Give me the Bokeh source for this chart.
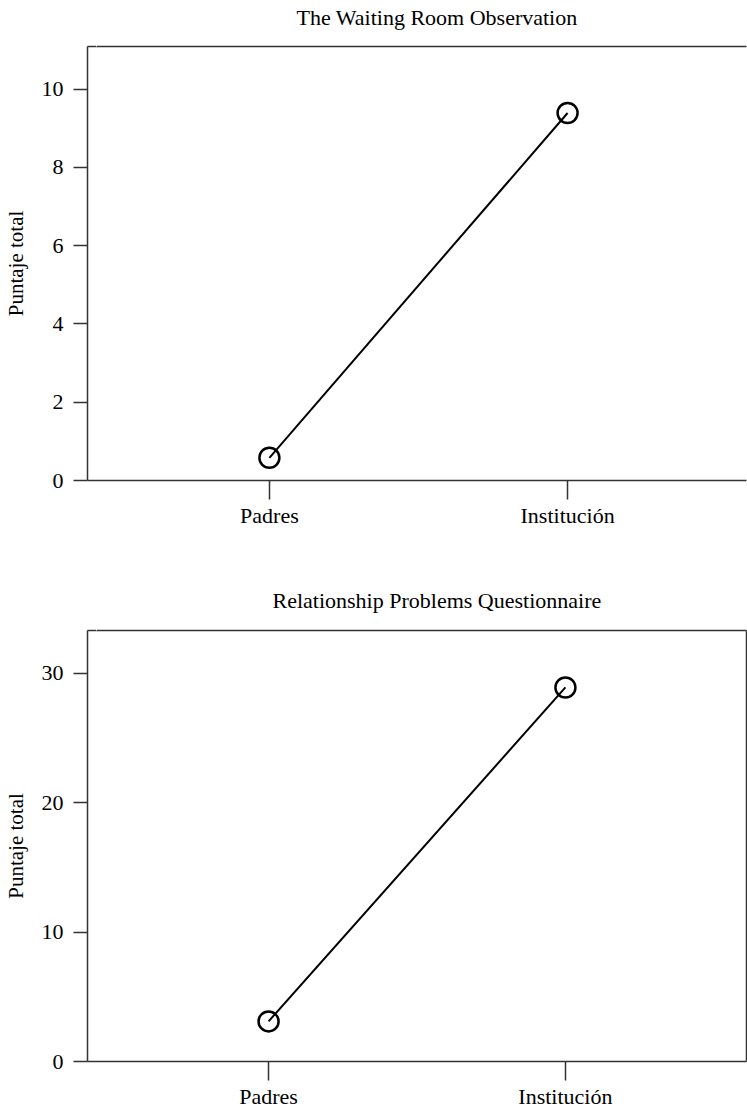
from bokeh.plotting import figure
from bokeh.models import LinearAxis, FixedTicker, Range1d, ColumnDataSource
from bokeh.layouts import column
from bokeh.embed import file_html
from bokeh.resources import INLINE

# Groups compared in both panels
groups = ["Padres", "Institución"]
group_pos = [1, 2]

# Total scores per group
waiting_room_scores = [0.58, 9.39]
relationship_scores = [3.1, 28.9]

# Titles and y tick values
panel_titles = ["The Waiting Room Observation", "Relationship Problems Questionnaire"]
waiting_room_ticks = [0, 2, 4, 6, 8, 10]
relationship_ticks = [0, 10, 20, 30]
y_label = "Puntaje total"

FONT = "Liberation Serif"
AXIS_COLOR = "#333333"


def bare_axis(anchor=None, gap=0):
    # frame edge line; a single white tick reserves `gap` px of room outside it
    ticks = [] if anchor is None else [anchor]
    ax = LinearAxis(ticker=FixedTicker(ticks=ticks))
    ax.axis_line_color = AXIS_COLOR
    ax.axis_line_width = 1.5
    ax.major_tick_line_color = "white"
    ax.major_tick_in = 0
    ax.major_tick_out = gap
    ax.minor_tick_line_color = None
    ax.minor_tick_in = 0
    ax.minor_tick_out = 0
    ax.major_label_standoff = 0
    ax.major_label_text_font_size = "0px"
    if anchor is not None:
        ax.major_label_overrides = {anchor: ""}
    return ax


def panel(title, values, yticks, ymax, xr, width, height,
          left, right, top, bottom, right_line, title_offset, title_gap):
    p = figure(width=width, height=height,
               x_range=Range1d(*xr), y_range=Range1d(0, ymax),
               x_axis_type=None, y_axis_type=None,
               min_border_left=left, min_border_right=right,
               min_border_top=top, min_border_bottom=bottom,
               output_backend="svg", toolbar_location=None,
               title=title)
    p.outline_line_color = None
    p.background_fill_color = "white"
    p.border_fill_color = "white"

    p.title.text_font = FONT
    p.title.text_font_size = "22px"
    p.title.text_font_style = "normal"
    p.title.text_color = "black"
    p.title.align = "left"
    p.title.offset = title_offset
    p.title.standoff = 4

    # y axis with outward ticks
    ya = LinearAxis(ticker=FixedTicker(ticks=yticks))
    ya.axis_line_color = AXIS_COLOR
    ya.axis_line_width = 1.5
    ya.major_tick_line_color = AXIS_COLOR
    ya.major_tick_line_width = 1.5
    ya.major_tick_in = 0
    ya.major_tick_out = 14
    ya.minor_tick_line_color = None
    ya.major_label_standoff = 10
    ya.major_label_text_font = FONT
    ya.major_label_text_font_size = "22px"
    ya.major_label_text_color = "black"
    ya.axis_label = y_label
    ya.axis_label_text_font = FONT
    ya.axis_label_text_font_size = "21px"
    ya.axis_label_text_font_style = "normal"
    ya.axis_label_text_color = "black"
    ya.axis_label_standoff = 11
    p.add_layout(ya, "left")

    # x axis with the two group labels
    xa = LinearAxis(ticker=FixedTicker(ticks=group_pos))
    xa.major_label_overrides = {pos: name for pos, name in zip(group_pos, groups)}
    xa.axis_line_color = AXIS_COLOR
    xa.axis_line_width = 1.5
    xa.major_tick_line_color = AXIS_COLOR
    xa.major_tick_line_width = 1.5
    xa.major_tick_in = 0
    xa.major_tick_out = 19
    xa.minor_tick_line_color = None
    xa.major_label_standoff = 3
    xa.major_label_text_font = FONT
    xa.major_label_text_font_size = "22px"
    xa.major_label_text_color = "black"
    p.add_layout(xa, "below")

    p.add_layout(bare_axis(xr[0] + 0.03, title_gap), "above")
    if right_line:
        p.add_layout(bare_axis(), "right")

    src = ColumnDataSource(dict(x=group_pos, y=values))
    p.line("x", "y", source=src, line_color="black", line_width=2)
    p.scatter("x", "y", source=src, marker="circle", size=20,
              fill_alpha=0, line_color="black", line_width=2.5)
    return p


p1 = panel(panel_titles[0], waiting_room_scores, waiting_room_ticks, 11.09,
           (0.39, 2.60), 747, 571, 86, 0, 46, 91, False, 209, 15)
p2 = panel(panel_titles[1], relationship_scores, relationship_ticks, 33.3,
           (0.39, 2.61), 747, 540, 82, 1, 59, 49, True, 185, 16)

layout = column(p1, p2, spacing=0)
open("out.html", "w").write(file_html(layout, INLINE))
